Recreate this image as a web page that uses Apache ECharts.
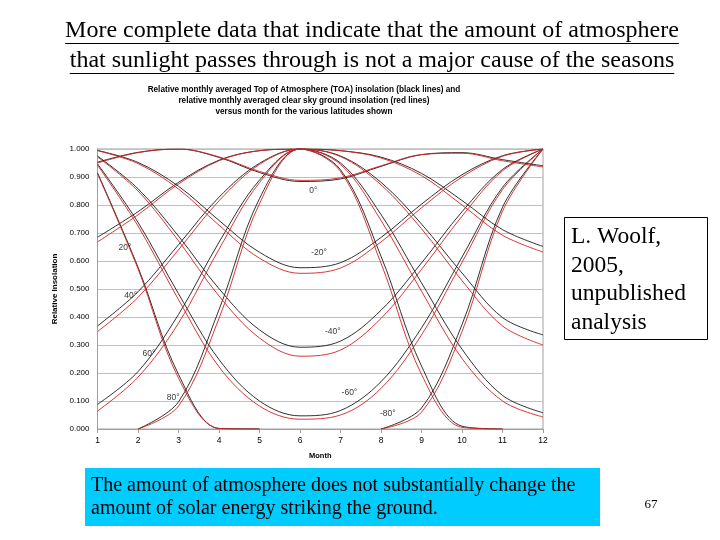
<!DOCTYPE html>
<html><head><meta charset="utf-8">
<script src="https://cdn.jsdelivr.net/npm/echarts@6/dist/echarts.min.js"></script>
<style>html,body{margin:0;padding:0;background:#fff}#c{width:720px;height:540px}</style>
</head><body><div id="c"></div>
<script>
// ---- data ----
const months = [1,2,3,4,5,6,7,8,9,10,11,12];
const latitudes = ['0°','20°','40°','60°','80°','-20°','-40°','-60°','-80°'];

// Top of atmosphere (black lines)
const toa0   = [0.953,0.988,1.000,0.970,0.916,0.884,0.893,0.938,0.980,0.987,0.962,0.940];
const toa20  = [0.685,0.776,0.881,0.960,0.994,1.000,0.994,0.971,0.913,0.816,0.712,0.652];
const toa40  = [0.368,0.490,0.658,0.828,0.949,1.000,0.975,0.881,0.732,0.557,0.398,0.336];
const toa60  = [0.088,0.205,0.409,0.667,0.889,1.000,0.950,0.766,0.522,0.285,0.120,0.058];
const toa80  = [null,0.000,0.097,0.426,0.823,1.000,0.926,0.617,0.225,0.010,0.000,null];
const toaS20 = [0.995,0.952,0.867,0.745,0.631,0.576,0.594,0.684,0.803,0.908,0.976,1.000];
const toaS40 = [0.975,0.858,0.689,0.501,0.354,0.292,0.314,0.424,0.593,0.776,0.927,1.000];
const toaS60 = [0.947,0.738,0.483,0.248,0.100,0.047,0.066,0.169,0.361,0.614,0.863,1.000];
const toaS80 = [0.915,0.578,0.195,0.002,0.000,null,null,0.000,0.075,0.373,0.792,1.000];

// Clear sky ground (red lines)
const gnd0   = [0.950,0.987,1.000,0.972,0.920,0.888,0.897,0.940,0.980,0.985,0.958,0.936];
const gnd20  = [0.668,0.765,0.875,0.958,0.994,1.000,0.994,0.968,0.905,0.800,0.692,0.632];
const gnd40  = [0.348,0.470,0.640,0.815,0.945,1.000,0.973,0.872,0.715,0.530,0.368,0.300];
const gnd60  = [0.064,0.185,0.378,0.642,0.880,1.000,0.945,0.745,0.492,0.252,0.100,0.043];
const gnd80  = [null,0.000,0.082,0.395,0.805,1.000,0.920,0.592,0.195,0.006,0.000,null];
const gndS20 = [0.994,0.948,0.857,0.728,0.610,0.556,0.575,0.668,0.790,0.900,0.974,1.000];
const gndS40 = [0.972,0.850,0.672,0.475,0.325,0.260,0.282,0.395,0.570,0.760,0.922,1.000];
const gndS60 = [0.942,0.725,0.462,0.222,0.082,0.035,0.050,0.145,0.336,0.595,0.855,1.000];
const gndS80 = [0.912,0.572,0.182,0.002,0.000,null,null,0.000,0.060,0.348,0.778,1.000];

const toaSets = [toa0,toa20,toa40,toa60,toa80,toaS20,toaS40,toaS60,toaS80];
const gndSets = [gnd0,gnd20,gnd40,gnd60,gnd80,gndS20,gndS40,gndS60,gndS80];

// ---- chart ----
const chart = echarts.init(document.getElementById('c'), null, {renderer:'canvas'});
const pair = arr => months.map((m,i)=>[m, arr[i]]);
const series = [];
latitudes.forEach((lat,k)=>{
  series.push({name:'TOA '+lat, type:'line', data:pair(toaSets[k]), smooth:0.35, showSymbol:false,
    lineStyle:{color:'#1a1a1a', width:0.9}, itemStyle:{color:'#1a1a1a'}, silent:true, z:2});
  series.push({name:'Ground '+lat, type:'line', data:pair(gndSets[k]), smooth:0.35, showSymbol:false,
    lineStyle:{color:'#d42020', width:0.9}, itemStyle:{color:'#d42020'}, silent:true, z:3});
});
// latitude annotations (data coordinates)
const labelPos = [[6.33,0.85],[1.68,0.649],[1.82,0.476],[2.27,0.27],[2.87,0.113],[6.47,0.63],[6.81,0.347],[7.22,0.131],[8.17,0.054]];
series.push({type:'scatter', symbolSize:0, silent:true, z:5,
  data: latitudes.map((lat,k)=>({name:lat, value:labelPos[k]})),
  label:{show:true, position:'inside', formatter:p=>p.name, color:'#000', fontSize:8.5, fontFamily:'Liberation Sans'}});

const serif = '"Liberation Serif", "Times New Roman", serif';
const titleLines = ['More complete data that indicate that the amount of atmosphere',
                    'that sunlight passes through is not a major cause of the seasons'];
const ctx = document.createElement('canvas').getContext('2d');
ctx.font = '24px "Liberation Serif"';
const graphics = [];
titleLines.forEach((t,i)=>{
  const y = 31 + i*30;
  const w = ctx.measureText(t).width;
  graphics.push({type:'text', x:372, y:y, style:{text:t, font:'24px '+serif, fill:'#000', align:'center', verticalAlign:'middle', textAlign:'center', textVerticalAlign:'middle'}});
  graphics.push({type:'line', shape:{x1:372-w/2, y1:y+12.5, x2:372+w/2, y2:y+12.5}, style:{stroke:'#000', lineWidth:1}});
});
const chartTitle = ['Relative monthly averaged Top of Atmosphere (TOA) insolation (black lines) and',
                    'relative monthly averaged clear sky ground insolation (red lines)',
                    'versus month for the various latitudes shown'];
chartTitle.forEach((t,i)=>{
  graphics.push({type:'text', x:304, y:90+i*11, style:{text:t, font:'bold 8.2px "Liberation Sans"', fill:'#000', align:'center', verticalAlign:'middle', textAlign:'center', textVerticalAlign:'middle'}});
});
// author box
graphics.push({type:'rect', shape:{x:564.5, y:217.5, width:143, height:122}, style:{fill:'#fff', stroke:'#000', lineWidth:1}});
['L. Woolf,','2005,','unpublished','analysis'].forEach((t,i)=>{
  graphics.push({type:'text', x:571, y:237+i*28.5, style:{text:t, font:'23.5px '+serif, fill:'#000', align:'left', verticalAlign:'middle', textAlign:'left', textVerticalAlign:'middle'}});
});
// cyan note box
graphics.push({type:'rect', shape:{x:85, y:468, width:515, height:58}, style:{fill:'#00CCFF'}});
['The amount of atmosphere does not substantially change the','amount of solar energy striking the ground.'].forEach((t,i)=>{
  graphics.push({type:'text', x:91, y:486+i*23, style:{text:t, font:'20px '+serif, fill:'#000', align:'left', verticalAlign:'middle', textAlign:'left', textVerticalAlign:'middle'}});
});
graphics.push({type:'text', x:651, y:505, style:{text:'67', font:'13px '+serif, fill:'#000', align:'center', verticalAlign:'middle', textAlign:'center', textVerticalAlign:'middle'}});

chart.setOption({
  animation:false,
  backgroundColor:'#fff',
  grid:{left:97.5, right:177, top:149, bottom:111, show:true, borderColor:'#a0a0a0', borderWidth:1, backgroundColor:'transparent'},
  xAxis:{type:'value', min:1, max:12, interval:1, name:'Month', nameLocation:'middle', nameGap:23,
    nameTextStyle:{fontSize:7.5, fontWeight:'bold', color:'#000', fontFamily:'Liberation Sans'},
    axisLine:{show:true, lineStyle:{color:'#a0a0a0'}}, axisTick:{show:true, length:4, inside:false, lineStyle:{color:'#a0a0a0'}},
    axisLabel:{fontSize:8.5, color:'#000', margin:7, fontFamily:'Liberation Sans'}, splitLine:{show:false}},
  yAxis:{type:'value', min:0, max:1, interval:0.1, name:'Relative Insolation', nameLocation:'middle', nameGap:36, nameRotate:90,
    nameTextStyle:{fontSize:8, fontWeight:'bold', color:'#000', fontFamily:'Liberation Sans'},
    axisLine:{show:true, lineStyle:{color:'#a0a0a0'}}, axisTick:{show:false},
    axisLabel:{fontSize:8, color:'#000', margin:8, fontFamily:'Liberation Sans', formatter:v=>v.toFixed(3)},
    splitLine:{show:true, lineStyle:{color:'#c0c0c0', width:1}}},
  series:series,
  graphic:graphics
});
</script></body></html>
